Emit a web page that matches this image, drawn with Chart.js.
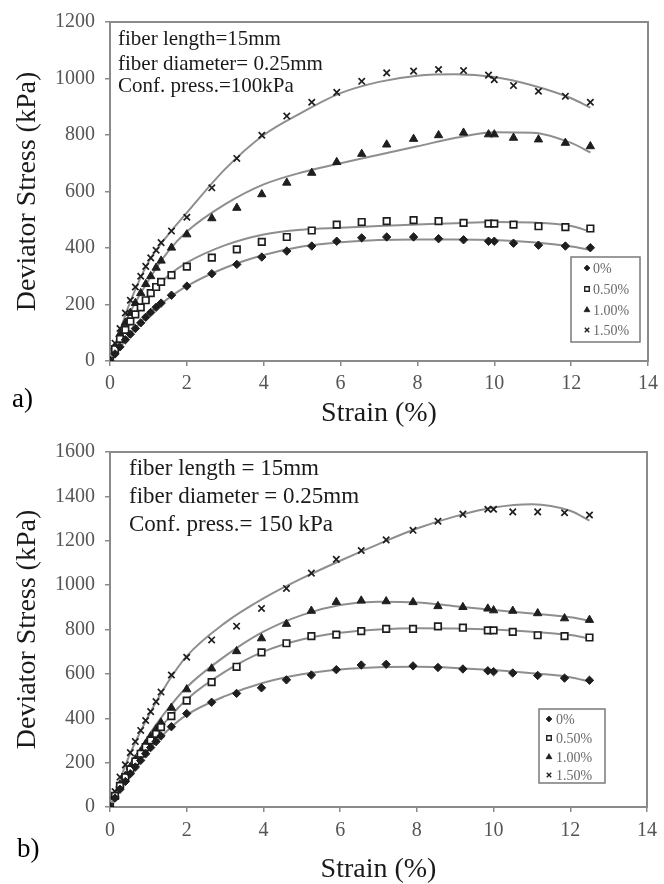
<!DOCTYPE html>
<html><head><meta charset="utf-8">
<script src="https://cdn.jsdelivr.net/npm/chart.js@4.4.1/dist/chart.umd.min.js"></script>
<style>
html,body{margin:0;padding:0;background:#fff;overflow:hidden;width:664px;height:884px;}
#c1{position:absolute;left:0;top:0;}
#c2{position:absolute;left:0;top:430px;}
</style></head><body>
<canvas id="c1" width="664" height="430"></canvas>
<canvas id="c2" width="664" height="456"></canvas>
<script>
// ---------- data ----------
const SERIES_LABELS = ['0%', '0.50%', '1.00%', '1.50%'];
const X_TICKS = [0, 2, 4, 6, 8, 10, 12, 14];

// measured strain points (%)
const STRAIN = [0, 0.13, 0.26, 0.4, 0.53, 0.66, 0.8, 0.93, 1.06, 1.2, 1.33, 1.6, 2.0, 2.65, 3.3, 3.95, 4.6, 5.25, 5.9, 6.55, 7.2, 7.9, 8.55, 9.2, 9.85, 10.0, 10.5, 11.15, 11.85, 12.5];

// (a) confining pressure 100 kPa - measured deviator stress (kPa)
const A_0   = [0, 25, 50, 75, 95, 115, 135, 155, 172, 190, 205, 233, 265, 309, 342, 368, 389, 407, 424, 436, 439, 439, 433, 429, 424, 424, 417, 410, 407, 401];
const A_050 = [0, 42, 78, 110, 140, 165, 190, 215, 240, 262, 280, 304, 334, 366, 395, 422, 439, 462, 483, 492, 495, 499, 495, 489, 486, 486, 483, 477, 474, 469];
const A_100 = [0, 50, 95, 135, 170, 205, 240, 272, 300, 330, 355, 401, 448, 505, 542, 590, 631, 666, 704, 733, 766, 786, 799, 808, 802, 802, 790, 784, 772, 760];
const A_150 = [0, 63, 115, 170, 215, 262, 300, 335, 365, 392, 419, 460, 509, 613, 717, 799, 867, 916, 951, 990, 1020, 1026, 1032, 1028, 1012, 996, 975, 955, 937, 916];

// (b) confining pressure 150 kPa - measured deviator stress (kPa)
const B_0   = [0, 40, 80, 115, 150, 180, 210, 240, 268, 295, 320, 362, 421, 472, 512, 537, 573, 595, 619, 640, 643, 636, 629, 622, 614, 610, 604, 593, 581, 571];
const B_050 = [0, 50, 95, 135, 170, 205, 240, 270, 300, 330, 360, 410, 479, 563, 632, 697, 738, 770, 777, 793, 803, 803, 814, 808, 796, 796, 789, 774, 770, 764];
const B_100 = [0, 55, 100, 140, 180, 215, 250, 285, 318, 350, 380, 447, 530, 624, 702, 760, 825, 884, 924, 930, 927, 923, 905, 901, 894, 886, 884, 873, 850, 843];
const B_150 = [0, 70, 135, 190, 245, 295, 345, 390, 430, 475, 518, 595, 675, 753, 815, 895, 985, 1054, 1116, 1156, 1204, 1247, 1288, 1320, 1342, 1342, 1330, 1330, 1326, 1316];

// fitted trend curves
const CURVE_X = [0, 0.5, 1, 1.5, 2, 3, 4, 5, 6, 7, 8, 9, 10, 11, 12, 12.5];
const A_FIT_0   = [0, 90, 165, 220, 265, 330, 375, 405, 420, 428, 430, 430, 428, 420, 405, 393];
const A_FIT_050 = [0, 135, 230, 300, 348, 410, 448, 465, 472, 478, 483, 488, 492, 490, 478, 458];
const A_FIT_100 = [0, 165, 285, 385, 458, 555, 625, 668, 700, 730, 760, 790, 810, 808, 772, 738];
const A_FIT_150 = [0, 200, 350, 445, 525, 680, 800, 880, 948, 988, 1010, 1015, 1005, 975, 930, 897];
const B_FIT_0   = [0, 145, 255, 345, 415, 500, 560, 598, 620, 630, 632, 627, 617, 603, 585, 565];
const B_FIT_050 = [0, 160, 290, 395, 485, 610, 700, 755, 785, 800, 806, 805, 800, 790, 775, 760];
const B_FIT_100 = [0, 170, 320, 440, 540, 680, 790, 865, 910, 925, 922, 905, 888, 872, 855, 840];
const B_FIT_150 = [0, 230, 410, 560, 680, 830, 940, 1030, 1110, 1185, 1255, 1310, 1350, 1365, 1335, 1291];

// ---------- styling ----------
const F = "'Liberation Serif', 'Times New Roman', serif";
const MARK = '#1e1e1e';
const CURVE = '#8e8e8e';
const STYLES = [
  {pointStyle: 'rectRot', radius: 4.2, bg: MARK, bw: 1},
  {pointStyle: 'rect', radius: 4.6, bg: '#ffffff', bw: 1.7},
  {pointStyle: 'triangle', radius: 4.8, bg: MARK, bw: 1},
  {pointStyle: 'crossRot', radius: 4.5, bg: MARK, bw: 1.7}
];

function pts(xs, ys) { return xs.map((x, i) => ({x: x, y: ys[i]})); }

function makeDatasets(marks, fits) {
  const ds = [];
  fits.forEach((f, i) => {
    ds.push({type: 'line', label: 'fit ' + SERIES_LABELS[i], data: pts(CURVE_X, f),
      borderColor: CURVE, borderWidth: 2, pointRadius: 0, fill: false,
      cubicInterpolationMode: 'monotone', order: 2, isFit: true});
  });
  marks.forEach((m, i) => {
    const s = STYLES[i];
    ds.push({type: 'scatter', label: SERIES_LABELS[i], data: pts(STRAIN, m),
      pointStyle: s.pointStyle, pointRadius: s.radius, pointBackgroundColor: s.bg,
      pointBorderColor: MARK, pointBorderWidth: s.bw, showLine: false, order: 1,
      legendStyle: s});
  });
  return ds;
}

const panelPlugin = {
  id: 'panel',
  beforeDatasetsDraw(chart) {
    const {ctx, chartArea: a} = chart;
    ctx.save();
    ctx.strokeStyle = '#8a8a8a';
    ctx.lineWidth = 2;
    ctx.strokeRect(a.left, a.top, a.right - a.left, a.bottom - a.top);
    ctx.restore();
  },
  afterDraw(chart, args, o) {
    const ctx = chart.ctx;
    ctx.save();
    // notes
    ctx.fillStyle = '#1a1a1a';
    ctx.font = o.noteSize + 'px ' + F;
    ctx.textAlign = 'left';
    ctx.textBaseline = 'middle';
    o.notes.forEach((t, i) => ctx.fillText(t, o.noteX, o.noteY[i]));
    // panel label
    ctx.font = '27px ' + F;
    ctx.fillStyle = '#000';
    ctx.fillText(o.label, o.labelX, o.labelY);
    // legend
    const L = o.legend;
    ctx.fillStyle = '#fff';
    ctx.fillRect(L.x, L.y, L.w, L.h);
    ctx.strokeStyle = '#7a7a7a';
    ctx.lineWidth = 1.5;
    ctx.strokeRect(L.x, L.y, L.w, L.h);
    const marks = chart.data.datasets.filter(d => !d.isFit);
    marks.forEach((d, i) => {
      const s = d.legendStyle;
      ctx.fillStyle = s.bg;
      ctx.strokeStyle = MARK;
      ctx.lineWidth = s.bw * 0.8;
      Chart.helpers.drawPoint(ctx, {pointStyle: s.pointStyle, radius: s.radius * 0.7, rotation: 0, borderWidth: s.bw * 0.8}, L.mx, L.iy[i]);
      ctx.fillStyle = '#6a6a6a';
      ctx.font = L.size + 'px ' + F;
      ctx.textAlign = 'left';
      ctx.textBaseline = 'middle';
      ctx.fillText(d.label, L.tx, L.iy[i] + 1);
    });
    ctx.restore();
  }
};

function scales(ymax, xHeight, xPad) {
  const tickFont = {family: F, size: 20};
  const plain = v => String(v);
  return {
    x: {
      type: 'linear', min: 0, max: 14,
      afterBuildTicks: s => { s.ticks = X_TICKS.map(v => ({value: v})); },
      ticks: {font: tickFont, color: '#555', padding: xPad, maxRotation: 0, callback: plain},
      grid: {drawOnChartArea: false, drawTicks: true, tickLength: 5, color: '#8a8a8a', lineWidth: 1.5},
      border: {display: false},
      title: {display: true, text: 'Strain (%)', font: {family: F, size: 28}, color: '#1a1a1a', padding: {top: 0, bottom: 0}},
      afterFit: s => { s.height = xHeight; }
    },
    y: {
      min: 0, max: ymax,
      ticks: {stepSize: 200, font: tickFont, color: '#555', padding: 10, callback: plain},
      grid: {drawOnChartArea: false, drawTicks: true, tickLength: 5, color: '#8a8a8a', lineWidth: 1.5},
      border: {display: false},
      title: {display: true, text: 'Deviator Stress (kPa)', font: {family: F, size: 28}, color: '#1a1a1a', padding: {top: 11, bottom: 0}},
      afterFit: s => { s.width = 110; }
    }
  };
}

function build(id, marks, fits, ymax, layoutTop, xHeight, xPad, panel) {
  return new Chart(document.getElementById(id), {
    type: 'scatter',
    data: {datasets: makeDatasets(marks, fits)},
    options: {
      responsive: false, animation: false, devicePixelRatio: 1,
      layout: {padding: {top: layoutTop, right: 11, left: 0, bottom: 0}},
      scales: scales(ymax, xHeight, xPad),
      plugins: {legend: {display: false}, tooltip: {enabled: false}, panel: panel}
    },
    plugins: [panelPlugin]
  });
}

build('c1', [A_0, A_050, A_100, A_150], [A_FIT_0, A_FIT_050, A_FIT_100, A_FIT_150], 1200, 20, 69, 6, {
  notes: ['fiber length=15mm', 'fiber diameter= 0.25mm', 'Conf. press.=100kPa'],
  noteSize: 21, noteX: 118, noteY: [39, 64, 86],
  label: 'a)', labelX: 12, labelY: 400,
  legend: {x: 571, y: 257, w: 69, h: 85, mx: 587, tx: 593, iy: [268, 289, 310, 330], size: 14}
});

build('c2', [B_0, B_050, B_100, B_150], [B_FIT_0, B_FIT_050, B_FIT_100, B_FIT_150], 1600, 12, 79, 7, {
  notes: ['fiber length = 15mm', 'fiber diameter = 0.25mm', 'Conf. press.= 150 kPa'],
  noteSize: 23, noteX: 129, noteY: [39, 67, 95],
  label: 'b)', labelX: 17, labelY: 420,
  legend: {x: 539, y: 279, w: 66, h: 74, mx: 549, tx: 556, iy: [289, 308, 327, 345], size: 14}
});
</script>
</body></html>
